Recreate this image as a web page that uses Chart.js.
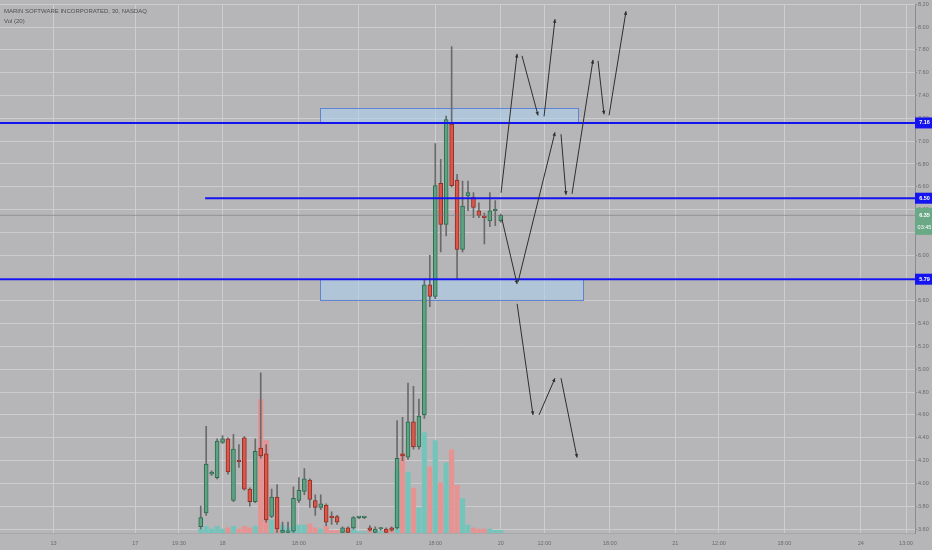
<!DOCTYPE html>
<html><head><meta charset="utf-8">
<script src="https://cdn.jsdelivr.net/npm/chart.js@4.4.0/dist/chart.umd.min.js"></script>
<style>
html,body{margin:0;padding:0;background:#b6b6b8;}
#wrap{width:932px;height:550px;position:relative;overflow:hidden;}
.lbl{position:absolute;left:4px;font-family:"Liberation Sans",Arial,sans-serif;font-size:6px;color:#4f4f4f;white-space:nowrap;line-height:6px;}
</style>
</head><body>
<div id="wrap">
<canvas id="c" width="932" height="550"></canvas>
<div class="lbl" style="top:8px">MARIN SOFTWARE INCORPORATED, 30, NASDAQ</div>
<div class="lbl" style="top:18px">Vol (20)</div>
</div>
<script>
// ---- data ----
const candleOpen  = [3.62,3.74,4.08,4.05,4.36,4.39,3.85,4.20,4.40,3.95,3.84,4.31,4.26,3.71,3.88,3.57,3.57,3.58,3.85,3.93,4.03,3.85,3.79,3.81,3.71,3.71,3.57,3.61,3.61,3.70,3.70,3.61,3.57,3.60,3.60,3.61,3.61,4.26,4.23,4.54,4.32,4.60,5.74,5.64,6.63,6.27,7.15,6.66,6.05,6.52,6.51,6.39,6.34,6.30,6.39,6.30];
const candleHigh  = [3.80,4.50,4.11,4.39,4.42,4.40,4.43,4.34,4.41,3.96,4.39,4.97,4.34,3.95,3.99,3.66,3.66,3.97,4.05,4.13,4.04,3.90,3.90,3.82,3.75,3.72,3.62,3.62,3.71,3.71,3.71,3.63,3.62,3.61,3.61,3.62,4.55,4.58,4.88,4.85,4.74,5.79,6.00,6.98,6.84,7.22,7.83,6.71,6.65,6.65,6.55,6.46,6.37,6.55,6.48,6.36];
const candleLow   = [3.60,3.72,4.07,4.04,4.35,4.08,3.84,4.14,3.94,3.80,3.83,4.22,3.66,3.70,3.57,3.565,3.565,3.57,3.83,3.90,3.79,3.72,3.77,3.63,3.64,3.64,3.565,3.565,3.60,3.69,3.69,3.58,3.565,3.59,3.565,3.58,3.60,4.20,4.21,4.30,4.30,4.57,5.55,5.62,6.03,6.17,6.60,5.79,6.03,6.39,6.33,6.33,6.10,6.25,6.26,6.29];
const candleClose = [3.70,4.17,4.10,4.37,4.39,4.10,4.30,4.19,3.95,3.84,4.28,4.24,3.68,3.88,3.60,3.59,3.58,3.87,3.94,4.04,3.86,3.79,3.82,3.66,3.70,3.66,3.61,3.57,3.70,3.70,3.70,3.59,3.60,3.60,3.57,3.59,4.22,4.24,4.54,4.32,4.59,5.74,5.64,6.61,6.27,7.19,6.61,6.05,6.43,6.55,6.42,6.35,6.33,6.39,6.39,6.35];
const volumeK     = [3,5,3,5,3,4,5,3,5,4,5,101,70,10,10,6,4,5,6,6,7,4,3,5,2,2,2,2,3,1,1,2,2,1,2,2,47,60,46,34,19,76,50,70,38,53,63,36,26,6,4,3,3,3,2,2];

const xTickPos    = [-27,-12,-4,4,18,29,43,55,63,75,87,95,107,121,129.3];
const xTickLabels = ['13','17','19:30','18','18:00','19','18:00','20','12:00','18:00','21','12:00','18:00','24','13:00'];
const priceTicks  = [3.6,3.8,4.0,4.2,4.4,4.6,4.8,5.0,5.2,5.4,5.6,5.8,6.0,6.2,6.4,6.6,6.8,7.0,7.2,7.4,7.6,7.8,8.0,8.2];

const levelPrices = [7.16, 6.50, 5.79];
const levelStartX = [-37, 0.8, -37];
const lastPrice = 6.35;
const lastPriceTimer = '03:45';

const zoneX0 = [21.9, 21.9];
const zoneX1 = [69.2, 70.1];
const zoneTop = [7.29, 5.79];
const zoneBottom = [7.16, 5.61];

const arrowX0 = [55.06,58.9,62.94,55.24,58.17,66.05,68.07,72.84,74.86,58.0,62.02,66.05];
const arrowY0 = [6.548,7.748,7.217,6.313,5.765,7.061,6.539,7.704,7.226,5.574,4.60,4.922];
const arrowX1 = [58.0,61.84,64.95,58.0,64.95,66.97,71.92,73.94,77.97,60.92,64.95,69.0];
const arrowY1 = [7.765,7.226,8.07,5.748,7.078,6.530,7.713,7.235,8.139,4.60,4.922,4.226];

// ---- styles ----
const UP = '#5ea383', UP_B = '#2f6a4f', DN = '#dc5749', DN_B = '#8c2e25';
const VOL_UP = '#74c4bb', VOL_DN = '#e59393';
const GRID = '#cdcdcf';
const BLUE = '#1414f0';

const idx = candleOpen.map((_, i) => i);
const isUp = idx.map(i => candleClose[i] >= candleOpen[i]);

const datasets = [];
datasets.push({
  label: 'Volume', type: 'bar', yAxisID: 'yv', order: 10, grouped: false,
  data: idx.map(i => ({x: i, y: volumeK[i]})),
  backgroundColor: idx.map(i => isUp[i] ? VOL_UP : VOL_DN),
  barThickness: 4.5, borderWidth: 0
});
datasets.push({
  label: 'Wick', type: 'bar', yAxisID: 'y', order: 6, grouped: false,
  data: idx.map(i => ({x: i, y: [candleLow[i], candleHigh[i]]})),
  backgroundColor: '#6a6a6a', barThickness: 1, borderWidth: 0, minBarLength: 1
});
datasets.push({
  label: 'Body', type: 'bar', yAxisID: 'y', order: 5, grouped: false,
  data: idx.map(i => ({x: i, y: [candleOpen[i], candleClose[i]]})),
  backgroundColor: idx.map(i => isUp[i] ? UP : DN),
  borderColor: idx.map(i => isUp[i] ? UP_B : DN_B),
  borderWidth: 1, borderSkipped: false, barThickness: 4, minBarLength: 1.5
});
datasets.push({
  label: 'Last', type: 'line', yAxisID: 'y', order: 4,
  data: [{x: -37, y: lastPrice}, {x: 131, y: lastPrice}],
  borderColor: 'rgba(120,120,120,0.55)', borderWidth: 1, pointRadius: 0
});
levelPrices.forEach((p, k) => {
  datasets.push({
    label: 'Level ' + p, type: 'line', yAxisID: 'y', order: 3,
    data: [{x: levelStartX[k], y: p}, {x: 131, y: p}],
    borderColor: BLUE, borderWidth: 2, pointRadius: 0
  });
});
arrowX0.forEach((_, k) => {
  datasets.push({
    label: 'Arrow ' + k, type: 'line', yAxisID: 'y', order: 1, isArrow: true,
    data: [{x: arrowX0[k], y: arrowY0[k]}, {x: arrowX1[k], y: arrowY1[k]}],
    borderColor: '#2e2e2e', borderWidth: 1, pointRadius: 0
  });
});

const overlay = {
  id: 'overlay',
  beforeDatasetsDraw(chart) {
    const {ctx, scales: {x, y}} = chart;
    ctx.save();
    for (let k = 0; k < zoneX0.length; k++) {
      const x0 = x.getPixelForValue(zoneX0[k]), x1 = x.getPixelForValue(zoneX1[k]);
      const y0 = y.getPixelForValue(zoneTop[k]), y1 = y.getPixelForValue(zoneBottom[k]);
      ctx.fillStyle = 'rgba(172,210,242,0.55)';
      ctx.fillRect(x0, y0, x1 - x0, y1 - y0);
      ctx.strokeStyle = 'rgba(80,120,215,0.85)';
      ctx.lineWidth = 1;
      ctx.strokeRect(Math.round(x0) + 0.5, Math.round(y0) + 0.5, Math.round(x1 - x0), Math.round(y1 - y0));
    }
    ctx.restore();
  },
  afterDatasetsDraw(chart) {
    const {ctx, chartArea: a} = chart;
    ctx.save();
    ctx.beginPath(); ctx.rect(a.left, a.top, a.right - a.left, a.bottom - a.top); ctx.clip();
    chart.data.datasets.forEach((ds, i) => {
      if (!ds.isArrow) return;
      const m = chart.getDatasetMeta(i);
      const p0 = m.data[0], p1 = m.data[1];
      const ang = Math.atan2(p1.y - p0.y, p1.x - p0.x);
      const L = 4, w = 0.45;
      ctx.fillStyle = '#2e2e2e';
      ctx.beginPath();
      ctx.moveTo(p1.x, p1.y);
      ctx.lineTo(p1.x - L * Math.cos(ang - w), p1.y - L * Math.sin(ang - w));
      ctx.lineTo(p1.x - L * Math.cos(ang + w), p1.y - L * Math.sin(ang + w));
      ctx.closePath(); ctx.fill();
    });
    ctx.restore();
  },
  afterDraw(chart) {
    const {ctx, scales: {y}, chartArea: a} = chart;
    ctx.save();
    const bx = a.right, bw = chart.width - a.right;
    ctx.textAlign = 'center';
    ctx.textBaseline = 'middle';
    // current price
    const yp = y.getPixelForValue(lastPrice);
    ctx.fillStyle = '#6aa886';
    ctx.fillRect(bx, yp - 7.5, bw, 27);
    ctx.fillStyle = '#ffffff';
    ctx.font = 'bold 5.5px "Liberation Sans", Arial, sans-serif';
    ctx.fillText(lastPrice.toFixed(2), bx + bw / 2 + 1, yp);
    ctx.font = '5.5px "Liberation Sans", Arial, sans-serif';
    ctx.fillText(lastPriceTimer, bx + bw / 2 + 1, yp + 12);
    // level labels
    levelPrices.forEach(p => {
      const py = y.getPixelForValue(p);
      ctx.fillStyle = BLUE;
      ctx.fillRect(bx, py - 5.5, bw, 11);
      ctx.fillStyle = '#ffffff';
      ctx.font = 'bold 5.5px "Liberation Sans", Arial, sans-serif';
      ctx.fillText(p.toFixed(2), bx + bw / 2 + 1, py);
    });
    ctx.restore();
  }
};

new Chart(document.getElementById('c'), {
  type: 'bar',
  data: {datasets},
  options: {
    responsive: false,
    animation: false,
    events: [],
    layout: {padding: 0},
    plugins: {legend: {display: false}, tooltip: {enabled: false}, title: {display: false}},
    scales: {
      x: {
        type: 'linear', position: 'bottom', min: -36.8, max: 130.95,
        offset: false,
        afterBuildTicks: s => { s.ticks = xTickPos.map(v => ({value: v})); },
        afterFit: s => { s.height = 17; },
        grid: {color: GRID, lineWidth: 1, offset: false, drawTicks: false},
        border: {display: true, color: '#a8a8aa'},
        ticks: {
          autoSkip: false, maxRotation: 0, padding: 7,
          color: '#6a6a6a',
          font: {family: '"Liberation Sans", Arial, sans-serif', size: 5.5},
          callback: (v, i) => xTickLabels[i]
        }
      },
      y: {
        type: 'linear', position: 'right', min: 3.565, max: 8.2, beginAtZero: false,
        afterBuildTicks: s => { s.ticks = priceTicks.map(v => ({value: v})); },
        afterFit: s => { s.width = 17; },
        grid: {color: GRID, lineWidth: 1, tickLength: 2, tickColor: '#8c8c8c'},
        border: {display: true, color: '#8c8c8e'},
        ticks: {
          padding: 1, color: '#6a6a6a',
          font: {family: '"Liberation Sans", Arial, sans-serif', size: 5.5},
          callback: v => Number(v).toFixed(2)
        }
      },
      yv: {type: 'linear', display: false, min: 0, max: 400, position: 'left'}
    }
  },
  plugins: [overlay]
});
</script>
</body></html>
